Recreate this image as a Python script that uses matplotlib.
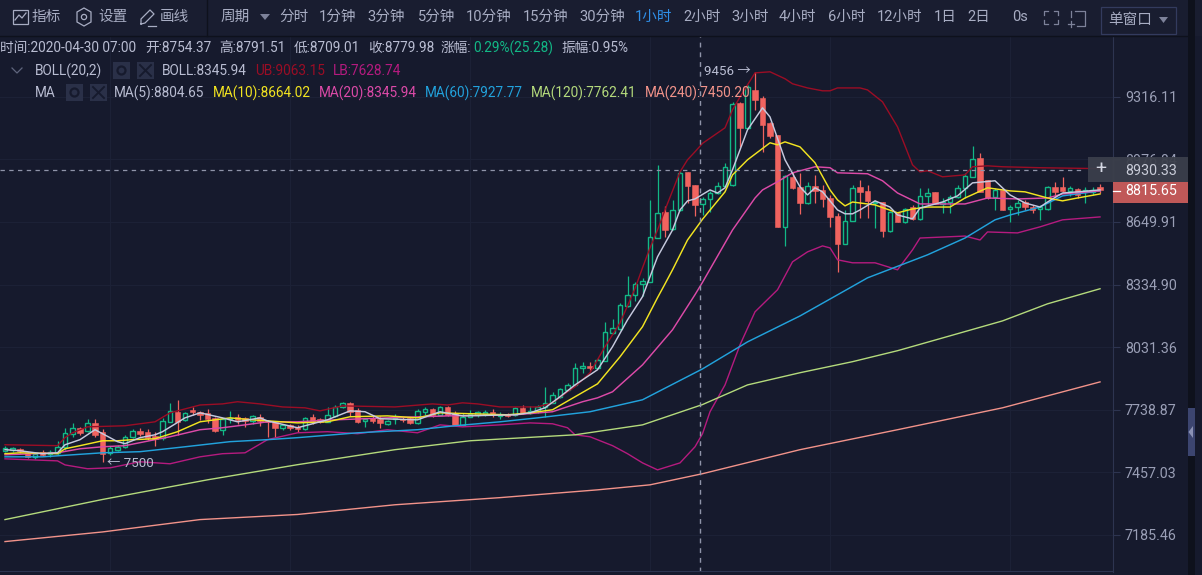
import numpy as np
import matplotlib
matplotlib.use('Agg')
import matplotlib.pyplot as plt
from matplotlib.patches import Rectangle, Polygon

FONT = ['Roboto', 'Noto Sans CJK SC', 'DejaVu Sans']
plt.rcParams['font.family'] = FONT

opens = [7552,7557,7561,7543,7525,7548,7537,7543,7570,7629,
         7656,7642,7678,7638,7543,7557,7570,7615,7642,7638,
         7620,7611,7683,7729,7692,7738,7729,7724,7701,7647,
         7697,7706,7701,7687,7706,7687,7683,7656,7669,7660,
         7651,7706,7697,7683,7710,7751,7770,7738,7687,7701,
         7697,7674,7697,7697,7701,7678,7729,7742,7715,7751,
         7724,7669,7706,7715,7719,7729,7710,7719,7715,7747,
         7724,7733,7751,7770,7798,7830,7853,7933,7943,7933,
         7966,8100,8119,8231,8285,8338,8348,8568,8702,8614,
         8712,8911,8843,8743,8769,8800,8837,8843,9283,9147,
         9355,9311,9174,9109,8625,8885,8832,8748,8837,8816,
         8774,8681,8538,8655,8832,8811,8748,8753,8604,8697,
         8650,8727,8666,8785,8806,8743,8753,8780,8827,8885,
         8986,8869,8780,8816,8717,8727,8753,8727,8717,8717,
         8832,8832,8811,8822,8806,8806,8832]
highs = [7575,7570,7566,7548,7548,7557,7557,7597,7656,7678,
         7660,7697,7697,7651,7575,7579,7624,7651,7656,7651,
         7638,7701,7770,7784,7729,7751,7733,7742,7706,7701,
         7733,7719,7706,7715,7719,7690,7687,7674,7674,7669,
         7706,7719,7701,7751,7760,7775,7775,7747,7701,7710,
         7710,7692,7719,7706,7706,7742,7751,7747,7756,7756,
         7733,7724,7738,7733,7738,7742,7729,7724,7751,7760,
         7756,7760,7844,7821,7840,7863,7957,7961,7961,7981,
         8152,8167,8245,8378,8348,8368,8764,8948,8733,8764,
         8922,8911,8843,8780,8811,8859,8959,9289,9289,9383,
         9456,9322,9179,9109,8895,8911,8906,8859,8895,8843,
         8790,8697,8712,8843,8869,8843,8764,8753,8707,8702,
         8722,8738,8827,8827,8806,8774,8790,8843,8906,9050,
         9012,8869,8827,8827,8738,8764,8764,8738,8738,8837,
         8859,8885,8837,8827,8832,8832,8848]
lows = [7548,7548,7543,7521,7516,7530,7525,7534,7557,7615,
        7624,7638,7615,7500,7534,7552,7566,7611,7620,7602,
        7575,7602,7683,7624,7687,7715,7692,7678,7638,7624,
        7678,7674,7660,7674,7665,7615,7615,7647,7647,7638,
        7647,7674,7678,7683,7706,7747,7710,7678,7660,7678,
        7656,7669,7674,7683,7674,7674,7715,7706,7715,7710,
        7669,7665,7706,7706,7710,7706,7697,7706,7710,7719,
        7719,7724,7706,7768,7793,7825,7849,7910,7924,7933,
        7966,8095,8114,8226,8255,8280,8348,8568,8573,8609,
        8707,8748,8681,8686,8702,8795,8832,8837,9044,9147,
        9245,9018,9093,8625,8528,8822,8692,8743,8748,8727,
        8625,8398,8538,8655,8671,8671,8619,8573,8599,8650,
        8645,8661,8661,8738,8743,8697,8697,8774,8774,8885,
        8806,8769,8712,8712,8650,8686,8712,8697,8661,8712,
        8780,8806,8785,8774,8748,8790,8800]
closes = [7566,7566,7552,7525,7539,7534,7546,7570,7633,7656,
          7633,7678,7624,7539,7566,7570,7615,7642,7629,7611,
          7606,7687,7733,7683,7724,7729,7715,7697,7642,7697,
          7701,7692,7687,7710,7687,7683,7656,7669,7656,7651,
          7701,7687,7683,7715,7751,7770,7729,7683,7697,7687,
          7678,7687,7701,7692,7678,7733,7742,7715,7751,7715,
          7669,7706,7719,7729,7729,7715,7715,7710,7747,7724,
          7733,7751,7770,7807,7835,7853,7933,7943,7933,7971,
          8105,8124,8236,8285,8338,8353,8573,8697,8609,8712,
          8906,8837,8738,8769,8800,8837,8938,9278,9147,9372,
          9300,9163,9104,8625,8890,8827,8748,8837,8811,8769,
          8676,8538,8655,8827,8806,8759,8753,8604,8702,8650,
          8717,8666,8785,8800,8743,8753,8780,8827,8890,8980,
          8806,8774,8816,8712,8727,8748,8727,8712,8727,8832,
          8806,8811,8827,8790,8816,8816,8815.65]

# indicator lines, read at the bars where they bend
ub_x = [0,7,8,9,11,16,20,22,26,29,31,34,37,40,42,45,52,57,59,61,63,66,71,73,75,76,78,80,82,84,85,86,87,88,90,91,92,93,96,97,98,99,100,102,104,105,107,109,110,111,114,115,117,119,121,122,123,125,128,129,131,133,138,146]
ub_y = [7579,7575,7611,7633,7660,7665,7683,7724,7760,7765,7775,7765,7751,7747,7733,7756,7751,7765,7760,7770,7765,7751,7751,7770,7821,7844,7910,8033,8147,8315,8418,8518,8609,8712,8911,8975,9018,9063,9147,9245,9316,9383,9450,9456,9417,9389,9366,9350,9350,9366,9366,9355,9289,9152,8948,8911,8917,8885,8895,8938,8943,8938,8933,8928]
lb_x = [0,7,8,11,14,18,22,26,29,32,35,39,43,47,51,55,58,61,66,70,73,75,76,78,81,83,85,87,90,92,93,94,96,98,100,103,105,107,109,110,111,113,116,119,121,122,128,130,131,135,138,141,146]
lb_y = [7516,7507,7489,7472,7476,7503,7494,7525,7539,7543,7602,7633,7638,7629,7647,7633,7669,7660,7669,7678,7674,7656,7624,7615,7575,7539,7498,7467,7498,7570,7629,7729,7853,8042,8201,8309,8448,8498,8528,8518,8458,8443,8443,8408,8508,8568,8578,8558,8599,8594,8625,8661,8676]
ma5_x = [0,2,5,7,8,10,12,13,15,16,18,20,21,24,26,29,31,34,35,39,43,46,48,50,55,58,61,68,70,72,74,76,79,81,83,85,87,89,90,91,92,94,95,96,97,99,101,102,104,106,107,108,109,111,112,113,114,116,118,119,121,122,125,127,129,132,134,136,138,139,141,143,146]
ma5_y = [7557,7552,7539,7543,7579,7602,7647,7629,7593,7584,7611,7624,7638,7701,7724,7701,7683,7701,7687,7656,7692,7733,7729,7697,7692,7729,7710,7715,7724,7747,7798,7853,7924,8033,8162,8275,8473,8609,8712,8759,8769,8816,8800,8827,8922,9136,9256,9206,8975,8832,8790,8827,8806,8712,8692,8692,8712,8759,8727,8686,8666,8722,8753,8785,8853,8864,8790,8748,8727,8753,8800,8806,8816]
ma10_x = [0,2,7,8,10,13,15,17,20,23,26,30,33,39,43,46,51,55,58,67,70,73,76,79,82,85,87,88,89,91,93,96,97,99,102,103,104,106,108,110,111,112,113,116,119,121,123,126,128,131,134,136,139,141,143,146]
ma10_y = [7539,7543,7539,7561,7575,7597,7597,7602,7606,7638,7683,7701,7692,7678,7683,7706,7710,7701,7724,7715,7724,7738,7798,7858,7985,8129,8270,8338,8408,8558,8664,8806,8895,8975,9066,9055,9071,9044,8959,8816,8764,8733,8753,8738,8697,8717,8727,8727,8774,8827,8811,8806,8774,8759,8774,8795]
ma20_x = [0,7,10,13,16,20,22,26,29,32,35,39,44,51,59,68,73,77,79,81,85,89,92,93,97,100,101,103,105,108,110,111,115,117,119,122,128,131,135,139,141,146]
ma20_y = [7534,7543,7561,7570,7575,7602,7615,7647,7656,7669,7683,7683,7692,7701,7710,7715,7729,7775,7793,7821,7947,8114,8285,8346,8609,8774,8816,8859,8906,8938,8933,8906,8901,8864,8800,8743,8743,8774,8769,8774,8795,8811]
ma60_x = [0,5,13,18,24,30,35,39,47,55,60,66,71,78,85,93,99,106,112,115,123,128,132,134,138,141,146]
ma60_y = [7525,7525,7543,7548,7570,7593,7602,7611,7633,7647,7665,7683,7701,7729,7784,7928,8056,8181,8305,8368,8483,8568,8661,8686,8727,8785,8811]
ma120_x = [0,13,27,39,52,62,76,85,93,99,106,113,119,126,133,139,146]
ma120_y = [7250,7337,7423,7490,7557,7597,7624,7669,7762,7853,7910,7962,8014,8085,8157,8240,8314]
ma240_x = [0,13,26,39,52,66,79,86,93,106,119,133,146]
ma240_y = [7156,7197,7250,7272,7314,7345,7379,7401,7450,7557,7647,7747,7867]

price_ticks = [9316.11, 8976.84, 8649.91, 8334.90, 8031.36, 7738.87, 7457.03, 7185.46]
day_bars = [14, 38, 62, 86, 110, 134]

BG = '#161a2d'
GREEN = '#12b886'
RED = '#f0635f'
TXT = '#b9bdd2'
AXIS = '#2d3450'
C_UB = '#9b0d25'
C_LB = '#b51a7f'
C_MA5 = '#c6cadf'
C_MA10 = '#f2e421'
C_MA20 = '#dc4aa8'
C_MA60 = '#22a2dc'
C_MA120 = '#b4da7c'
C_MA240 = '#f2938a'

W, H = 1202, 575
fig = plt.figure(figsize=(W / 100, H / 100), dpi=100, facecolor=BG)
ax = fig.add_axes([0, 3 / H, 1113 / W, (572 - 36) / H], facecolor=BG)

bars = np.arange(len(closes))
opens = np.array(opens, float)
closes = np.array(closes, float)
up = closes >= opens

ax.set_yscale('log')
ax.set_xlim(-0.667, 147.73)
ax.set_ylim(7028, 9659)

ax.vlines(bars[up], np.array(lows)[up], np.array(highs)[up], color=GREEN, lw=0.9, zorder=2)
ax.vlines(bars[~up], np.array(lows)[~up], np.array(highs)[~up], color=RED, lw=0.9, zorder=2)
ax.bar(bars[up], (closes - opens)[up], bottom=opens[up], width=0.62,
       facecolor=BG, edgecolor=GREEN, linewidth=1.0, zorder=3)
ax.bar(bars[~up], (opens - closes)[~up], bottom=closes[~up], width=0.78,
       facecolor=RED, edgecolor=RED, linewidth=0.4, zorder=3)

ax.plot(ub_x, ub_y, color=C_UB, lw=1.0, zorder=4)
ax.plot(lb_x, lb_y, color=C_LB, lw=1.0, zorder=4)
ax.plot(ma240_x, ma240_y, color=C_MA240, lw=1.0, zorder=4)
ax.plot(ma120_x, ma120_y, color=C_MA120, lw=1.0, zorder=4)
ax.plot(ma60_x, ma60_y, color=C_MA60, lw=1.05, zorder=5)
ax.plot(ma20_x, ma20_y, color=C_MA20, lw=1.05, zorder=5)
ax.plot(ma10_x, ma10_y, color=C_MA10, lw=1.05, zorder=6)
ax.plot(ma5_x, ma5_y, color=C_MA5, lw=1.05, zorder=6)

ax.yaxis.tick_right()
ax.set_yticks(price_ticks)
ax.set_yticklabels(['%.2f' % p for p in price_ticks])
ax.yaxis.set_minor_locator(matplotlib.ticker.NullLocator())
ax.yaxis.set_minor_formatter(matplotlib.ticker.NullFormatter())
ax.tick_params(axis='y', length=5, width=0.8, color=AXIS, labelcolor='#9a9fb6', labelsize=10.3, pad=3.6)
ax.set_xticks(day_bars)
ax.set_xticklabels([])
ax.tick_params(axis='x', length=0)
ax.grid(True, color='#1d2237', lw=0.7, zorder=0)
ax.set_axisbelow(True)
for s in ['top', 'left', 'bottom']:
    ax.spines[s].set_visible(False)
ax.spines['right'].set_color(AXIS)

# crosshair and extreme markers
ax.axvline(92.67, color='#8f94a9', lw=1.0, ls=(0, (3.5, 3.5)), zorder=7)
ax.plot([-0.667, 144], [8921, 8921], color='#8f94a9', lw=0.9, ls=(0, (3.5, 3.5)), zorder=7)
ax.annotate('9456 →', (100, 9456), xytext=(-3, 0), textcoords='offset points', ha='right', va='center',
            color=TXT, fontsize=9.6, zorder=8)
ax.annotate('← 7500', (13, 7500), xytext=(3, -1), textcoords='offset points', ha='left', va='center',
            color=TXT, fontsize=9.6, zorder=8)

# chrome drawn in pixel coordinates on top of the chart
ui = fig.add_axes([0, 0, 1, 1], facecolor='none', zorder=10)
ui.set_xlim(0, W)
ui.set_ylim(H, 0)
ui.axis('off')


def box(x0, y0, x1, y1, **kw):
    ui.add_patch(Rectangle((x0, y0), x1 - x0, y1 - y0, **kw))


box(0, 0, W, 36, facecolor='#191d30', edgecolor='none')
ui.plot([0, 1188], [36, 36], color='#0e111c', lw=1)
ui.plot([207, 207], [0, 36], color='#0e111c', lw=1)
ui.plot([0, 1113], [571, 571], color=AXIS, lw=0.8)

toolbar = [('指标', 32), ('设置', 98), ('画线', 160), ('周期', 221), ('分时', 279), ('1分钟', 319),
           ('3分钟', 367), ('5分钟', 418), ('10分钟', 466), ('15分钟', 523), ('30分钟', 579),
           ('1小时', 635), ('2小时', 683), ('3小时', 731), ('4小时', 779), ('6小时', 828),
           ('12小时', 877), ('1日', 934), ('2日', 967), ('0s', 1012)]
for label, x in toolbar:
    ui.text(x, 17, label, color='#2f8fe8' if label == '1小时' else '#a8adc3', fontsize=10.5,
            va='center', ha='left')

# toolbar icons
ICON = '#a8adc3'
box(13, 10, 28, 24, facecolor='none', edgecolor=ICON, lw=0.9)
ui.plot([15, 19, 22, 26], [20, 15, 18, 13], color=ICON, lw=0.9)
ui.add_patch(Polygon([(84, 8), (91, 12), (91, 22), (84, 26), (77, 22), (77, 12)], closed=True,
                     facecolor='none', edgecolor=ICON, lw=0.9))
ui.add_patch(plt.Circle((84, 17), 2.6, facecolor='none', edgecolor=ICON, lw=0.9))
ui.plot([141, 141, 150, 154, 145, 141], [24, 19, 10, 14, 23, 24], color=ICON, lw=0.9)
ui.plot([148, 156], [26, 26], color=ICON, lw=0.9)
ui.add_patch(Polygon([(260, 14), (270, 14), (265, 20)], closed=True, facecolor='#7d829a', edgecolor='none'))
for x0, x1, y0, y1 in [(1044, 1058, 11, 24)]:
    for xa, sx in [(x0, 1), (x1, -1)]:
        for ya, sy in [(y0, 1), (y1, -1)]:
            ui.plot([xa + sx * 4, xa, xa], [ya, ya, ya + sy * 4], color='#7d829a', lw=0.9)
ui.plot([1075, 1085, 1085, 1077], [11, 11, 26, 26], color='#7d829a', lw=0.9)
ui.plot([1071, 1071], [11, 17], color='#7d829a', lw=0.9)
ui.plot([1068, 1074], [24, 24], color='#7d829a', lw=0.9)
ui.plot([1071, 1071], [21, 27], color='#7d829a', lw=0.9)
box(1100.5, 6.5, 1175.5, 33.5, facecolor='#191d30', edgecolor='#333b5e', lw=0.9)
ui.text(1108, 20, '单窗口', color='#a8adc3', fontsize=10.5, va='center', ha='left')
ui.add_patch(Polygon([(1159, 17), (1168, 17), (1163.5, 23)], closed=True, facecolor='#7d829a', edgecolor='none'))

# info lines
info = [('时间:2020-04-30 07:00', 0, TXT), ('开:8754.37', 145, TXT), ('高:8791.51', 219, TXT),
        ('低:8709.01', 294, TXT), ('收:8779.98', 368, TXT), ('涨幅:', 441, TXT),
        ('0.29%(25.28)', 473, '#12b886'), ('振幅:0.95%', 561, TXT)]
for label, x, col in info:
    ui.text(x, 48, label, color=col, fontsize=9.85, va='center', ha='left')
boll = [('BOLL(20,2)', 35, TXT), ('BOLL:8345.94', 162, TXT), ('UB:9063.15', 255, C_UB), ('LB:7628.74', 333, C_LB)]
for label, x, col in boll:
    ui.text(x, 71, label, color=col, fontsize=9.85, va='center', ha='left')
ma_row = [('MA', 35, TXT), ('MA(5):8804.65', 114, TXT), ('MA(10):8664.02', 213, C_MA10),
          ('MA(20):8345.94', 319, C_MA20), ('MA(60):7927.77', 425, C_MA60),
          ('MA(120):7762.41', 531, C_MA120), ('MA(240):7450.20', 645, C_MA240)]
for label, x, col in ma_row:
    ui.text(x, 93, label, color=col, fontsize=9.85, va='center', ha='left')
ui.plot([12, 17, 22], [68, 73, 68], color='#5f657d', lw=0.9)
for x0, y0 in [(113, 62), (137, 62), (66, 84), (90, 84)]:
    box(x0, y0, x0 + 17, y0 + 17, facecolor='#2a3048', edgecolor='none')
for x0, y0 in [(113, 62), (66, 84)]:
    ui.add_patch(plt.Circle((x0 + 8.5, y0 + 8.5), 4, facecolor='none', edgecolor='#161a2d', lw=1.6))
for x0, y0 in [(137, 62), (90, 84)]:
    ui.plot([x0 + 3, x0 + 14], [y0 + 3, y0 + 14], color='#161a2d', lw=1.4)
    ui.plot([x0 + 3, x0 + 14], [y0 + 14, y0 + 3], color='#161a2d', lw=1.4)

# price tags
box(1088, 157, 1188, 182, facecolor='#3b3f4b', edgecolor='none', alpha=0.95)
ui.text(1100.5, 169.5, '+', color='#d4d7e3', fontsize=14, va='center', ha='center')
ui.text(1125, 171, '8930.33', color='#c9ccd8', fontsize=10.3, va='center', ha='left')
box(1113, 182, 1188, 203, facecolor='#c05858', edgecolor='none')
ui.plot([1113, 1120], [191, 191], color='white', lw=0.9)
ui.text(1125, 191, '8815.65', color='white', fontsize=10.3, va='center', ha='left')

# scrollbar strip on the right edge
box(1188, 0, 1195, H, facecolor='#0e111c', edgecolor='none')
box(1188, 408, 1195, 456, facecolor='#3c4570', edgecolor='none')
ui.add_patch(Polygon([(1193, 426), (1193, 438), (1188.5, 432)], closed=True, facecolor='#8b92b5', edgecolor='none'))

fig.savefig('out.png', dpi=100, facecolor=BG)
